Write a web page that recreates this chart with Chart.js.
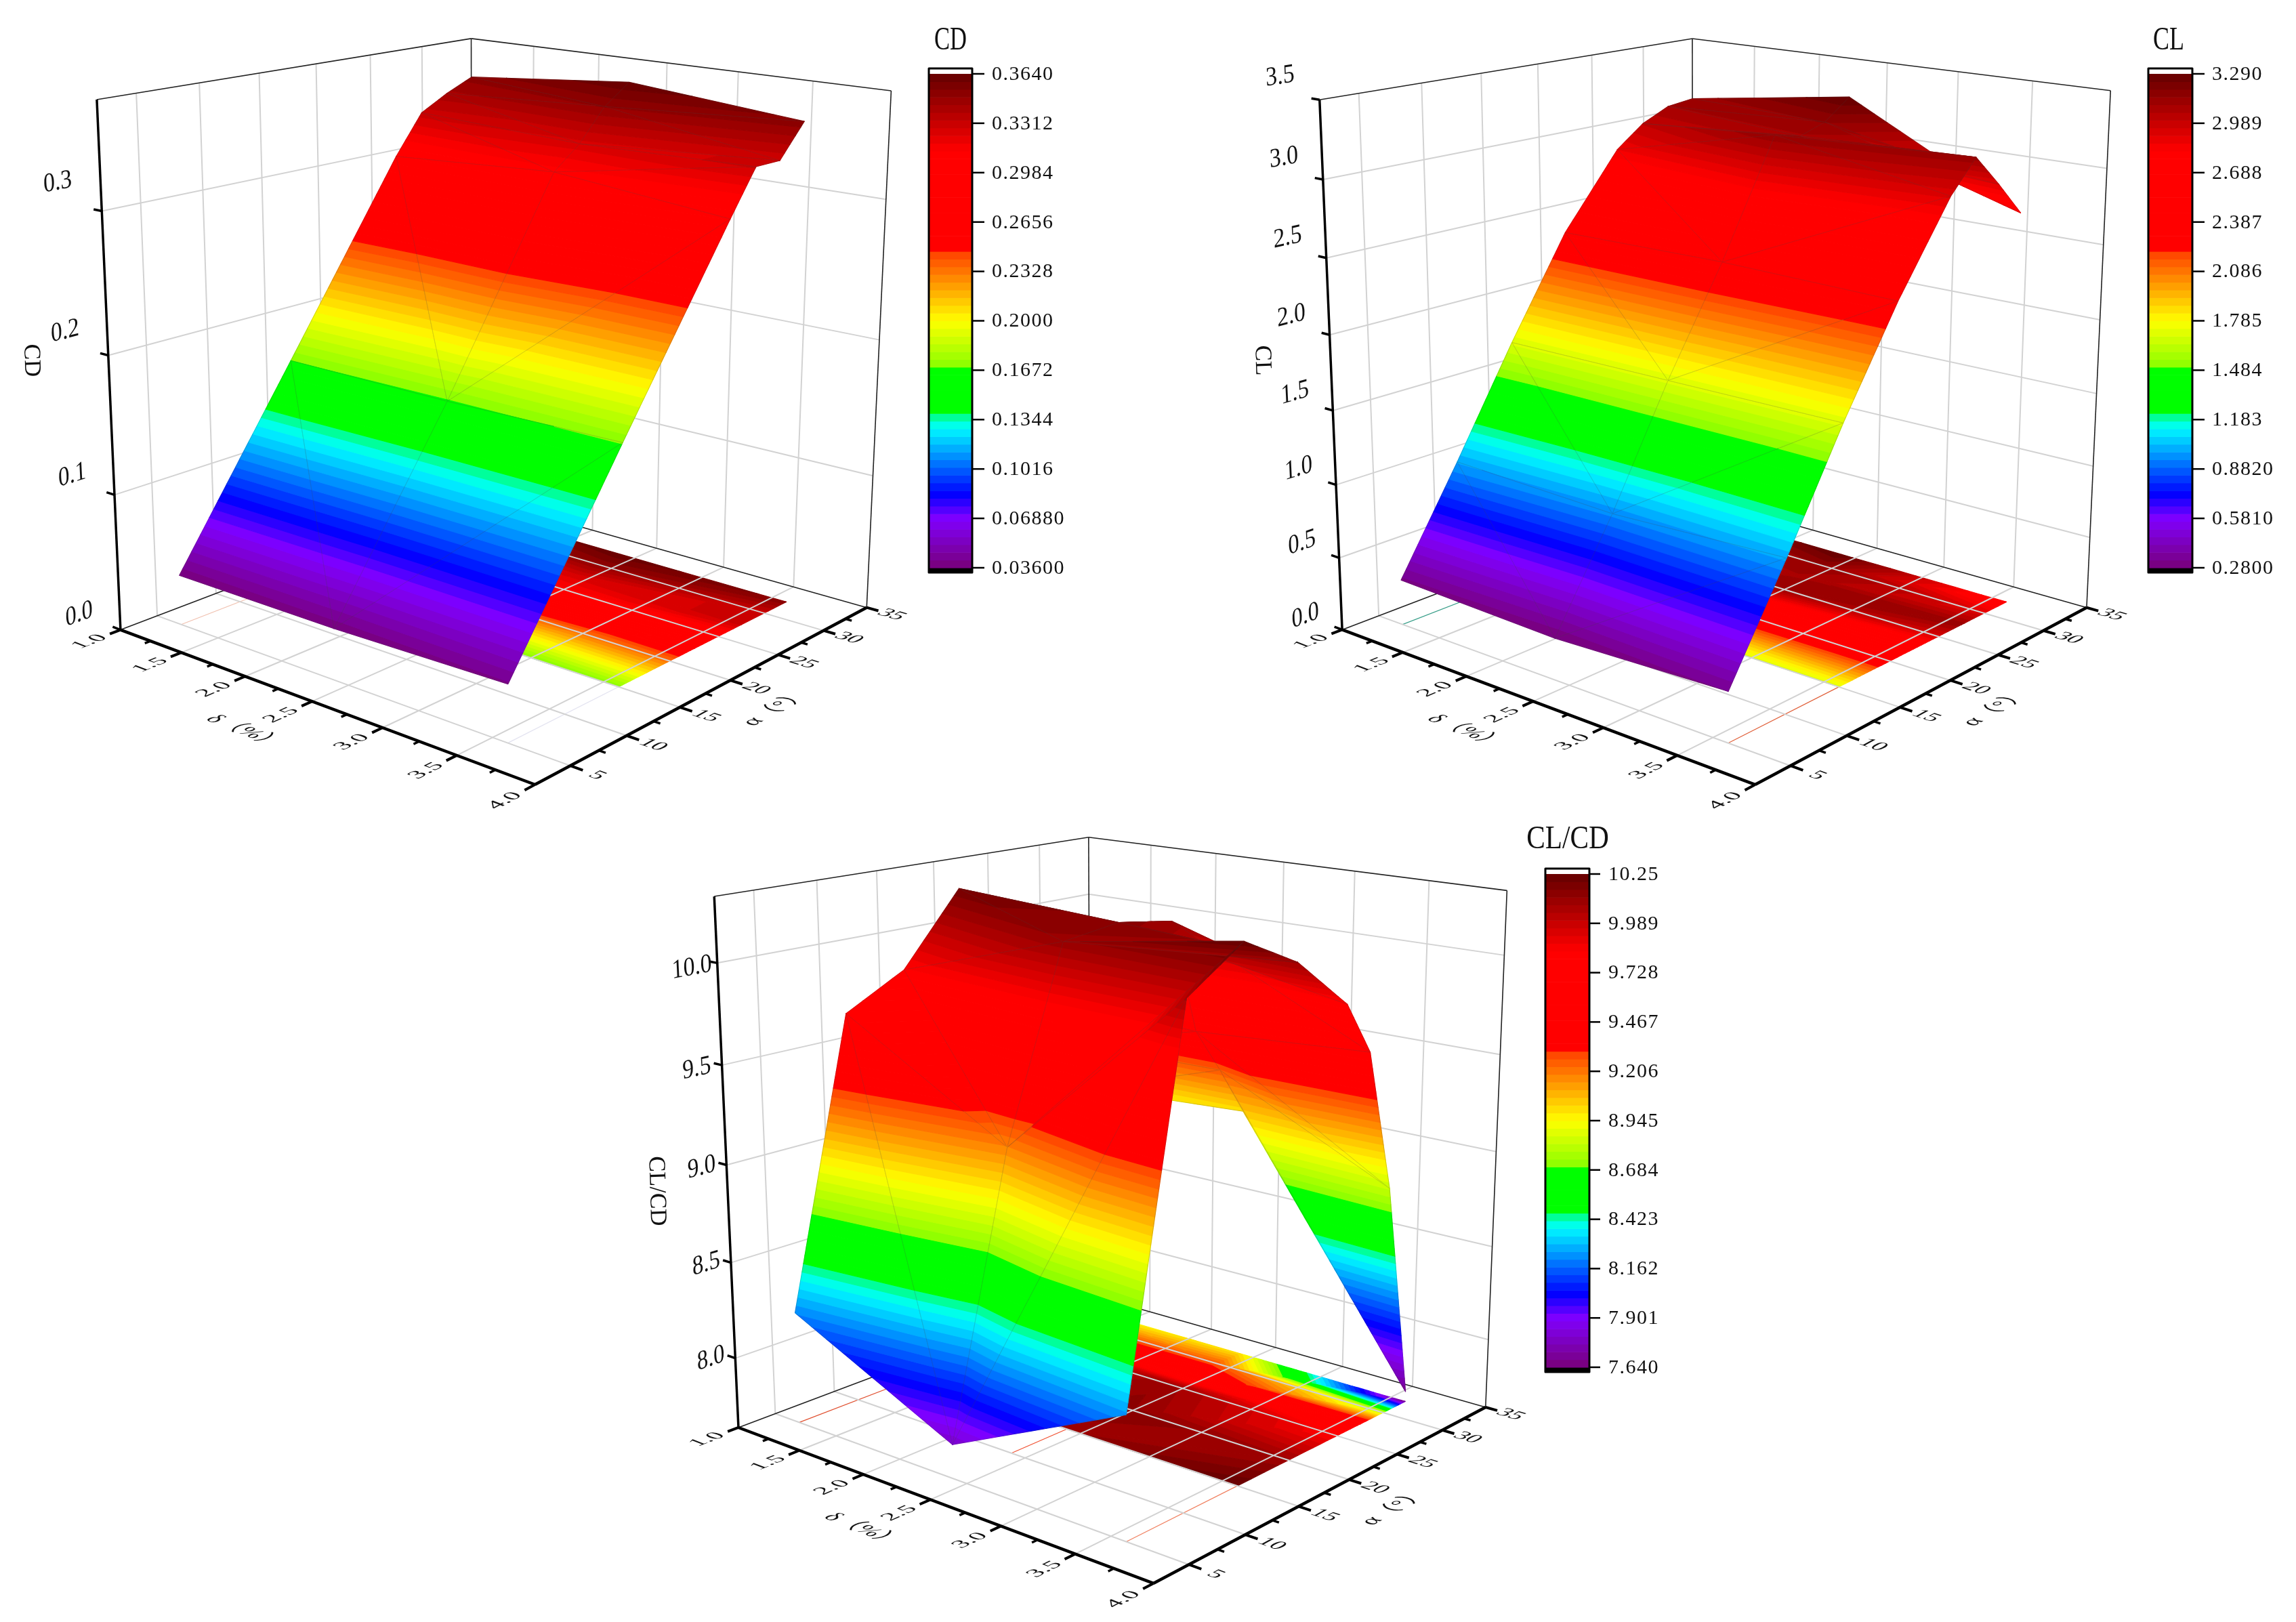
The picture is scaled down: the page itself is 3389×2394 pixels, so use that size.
<!DOCTYPE html>
<html>
<head>
<meta charset="utf-8">
<title>CD CL CL/CD surfaces</title>
<script src="https://cdn.jsdelivr.net/npm/chart.js@4"></script>
<style>
  html, body { margin: 0; padding: 0; background: #fff; }
  canvas { display: block; }
</style>
</head>
<body>
<canvas id="surfaceChart" width="3389" height="2394"></canvas>
<script>
// deflection (%) columns of every surface
const deltaValues = [1.2, 2.4, 3.6];

// CD(alpha, delta)
const cdAlpha = [5, 15, 25, 27.5, 30, 32.5];
const cdLow = [0.037, 0.169, 0.302, 0.331, 0.342, 0.351];
const cdMid = [0.037, 0.168, 0.310, 0.326, 0.349, 0.363];
const cdHigh = [0.040, 0.170, 0.298, 0.329, 0.329, 0.352];

// CL(alpha, delta)
const clAlpha = [5, 10, 15, 20, 25, 27.5, 30, 32.5];
const clLow = [0.311, 0.992, 1.703, 2.369, 2.867, 3.013, 3.099, 3.121];
const clMid = [0.280, 0.952, 1.705, 2.382, 3.138, 3.094, 3.152, 3.287];
const clHigh = [0.327, 1.000, 1.708, 2.358, 2.924, 3.129, 2.916, 2.687];

// CL/CD(alpha, delta)
const ldAlpha = [5, 10, 15, 20, 25, 27.5, 30, 32.5];
const ldLow = [8.215, 9.674, 9.834, 10.20, 9.95, 9.55, 9.25, 8.95];
const ldMid = [7.804, 9.184, 10.114, 10.152, 10.105, 9.504, 9.263, 9.000];
const ldHigh = [8.240, 10.056, 10.250, 10.096, 9.833, 9.563, 8.828, 7.685];

// axis ticks
const deltaTicks = [1.0, 1.5, 2.0, 2.5, 3.0, 3.5, 4.0];
const alphaTicks = [5, 10, 15, 20, 25, 30, 35];
const cdTicks = [0.0, 0.1, 0.2, 0.3];
const clTicks = [0.0, 0.5, 1.0, 1.5, 2.0, 2.5, 3.0, 3.5];
const ldTicks = [8.0, 8.5, 9.0, 9.5, 10.0];

// colour bar labels, top to bottom
const cdBarLabels = ["0.3640", "0.3312", "0.2984", "0.2656", "0.2328", "0.2000", "0.1672", "0.1344", "0.1016", "0.06880", "0.03600"];
const clBarLabels = ["3.290", "2.989", "2.688", "2.387", "2.086", "1.785", "1.484", "1.183", "0.8820", "0.5810", "0.2800"];
const ldBarLabels = ["10.25", "9.989", "9.728", "9.467", "9.206", "8.945", "8.684", "8.423", "8.162", "7.901", "7.640"];

// colour map: position 0..1, rgb. Repeated positions are hard steps, as in the original palette
const colorStops = [
    [0, 120, 0, 120], [0.10, 128, 0, 255], [0.15, 0, 0, 255], [0.285, 0, 255, 255], [0.31, 0, 255, 128],
    [0.31, 0, 255, 0], [0.41, 0, 255, 0], [0.41, 140, 255, 0], [0.50, 255, 255, 0], [0.64, 255, 64, 0],
    [0.64, 255, 0, 0], [0.845, 255, 0, 0], [1, 100, 0, 0]
];
const levelCount = 64;

const deltaMin = 1, deltaMax = 4, alphaMin = 2, alphaMax = 35;

// Box corners on the page, used to fit the perspective camera of each panel
const panels = [
    {
        title: "CD", zTitle: "CD", alphas: cdAlpha, rows: [cdLow, cdMid, cdHigh], zFloor: 0, zTop: 0.375,
        zTicks: cdTicks, zDigits: 1, zLabelX: -0.118, zLabelLift: 0.045, zLabelDrop: 0,
        zTitlePos: [46, 532],
        barLabels: cdBarLabels, valueMin: 0.036, valueMax: 0.364,
        bar: { left: 1371, right: 1435, top: 101, bottom: 845, colorTop: 109, colorBottom: 838, tickEnd: 1453, labelX: 1464, titleX: 1403, titleY: 73, titleScale: 0.72 },
        corners: [[177, 929], [791, 1157], [1279, 896], [698, 732], [144, 146], [1316, 134], [694, 57]],
        calib: [[0.5, 0, 0, 459.6, 1035.5], [1, 18 / 33, 0, 1077, 1005.5], [0, 0, 0.2 / 0.375, 160, 526]],
        slivers: [[0, 5, "rgba(230,150,120,0.6)"], [2, 5, "rgba(200,200,225,0.5)"]]
    },
    {
        title: "CL", zTitle: "CL", alphas: clAlpha, rows: [clLow, clMid, clHigh], zFloor: 0, zTop: 3.5,
        zTicks: clTicks, zDigits: 1, zLabelX: -0.105, zLabelLift: 0.03, zLabelDrop: 0,
        zTitlePos: [1863, 532],
        barLabels: clBarLabels, valueMin: 0.28, valueMax: 3.29,
        bar: { left: 3171, right: 3236, top: 101, bottom: 845, colorTop: 109, colorBottom: 838, tickEnd: 3254, labelX: 3265, titleX: 3201, titleY: 73, titleScale: 0.75 },
        corners: [[1980, 929], [2590, 1157], [3079, 896], [2500, 732], [1949, 146], [3116, 134], [2496, 57]],
        calib: [[0.5, 0, 0, 2262.6, 1035.5], [1, 18 / 33, 0, 2880, 1005.5], [0, 0, 2 / 3.5, 1963, 496]],
        slivers: [[0, 5, "#3a9f8a"], [2, 5, "#e0603a"]]
    },
    {
        title: "CL/CD", zTitle: "CL/CD", alphas: ldAlpha, rows: [ldLow, ldMid, ldHigh], zFloor: 7.63, zTop: 10.32,
        zTicks: ldTicks, zDigits: 1, zLabelX: -0.07, zLabelLift: 0, zLabelDrop: 0.018,
        zTitlePos: [969, 1758],
        barLabels: ldBarLabels, valueMin: 7.64, valueMax: 10.25,
        bar: { left: 2281, right: 2346, top: 1282, bottom: 2025, colorTop: 1290, colorBottom: 2018, tickEnd: 2362, labelX: 2374, titleX: 2314, titleY: 1252, titleScale: 0.86 },
        corners: [[1091, 2108], [1703, 2336], [2191, 2077], [1612, 1911], [1057, 1325], [2226, 1314], [1605, 1236]],
        calib: [[0.5, 0, 0, 1373.6, 2214.5], [1, 18 / 33, 0, 1991, 2184.5], [0, 0, (9 - 7.63) / 2.69, 1068, 1716]],
        slivers: [[0, 5, "#e05030"], [1, 10, "#f05030"], [2, 5, "#f08060"]]
    }
];

const serif = "'Liberation Serif','Noto Sans CJK SC',serif";
const gridColor = "#d2d2d2";

function solveLinear(A, b) {
    const n = b.length;
    for (let i = 0; i < n; i++) {
        let p = i;
        for (let r = i + 1; r < n; r++) if (Math.abs(A[r][i]) > Math.abs(A[p][i])) p = r;
        [A[i], A[p]] = [A[p], A[i]];
        [b[i], b[p]] = [b[p], b[i]];
        for (let r = i + 1; r < n; r++) {
            const f = A[r][i] / A[i][i];
            for (let c = i; c < n; c++) A[r][c] -= f * A[i][c];
            b[r] -= f * b[i];
        }
    }
    const x = new Array(n).fill(0);
    for (let i = n - 1; i >= 0; i--) {
        let s = b[i];
        for (let c = i + 1; c < n; c++) s -= A[i][c] * x[c];
        x[i] = s / A[i][i];
    }
    return x;
}

// Least squares 3x4 camera from box points (X, Y, Z in 0..1)
function fitCamera(points) {
    const A = Array.from({ length: 11 }, () => new Array(11).fill(0));
    const b = new Array(11).fill(0);
    const add = (r, v) => {
        for (let i = 0; i < 11; i++) {
            b[i] += r[i] * v;
            for (let j = 0; j < 11; j++) A[i][j] += r[i] * r[j];
        }
    };
    points.forEach(([X, Y, Z, u, v]) => {
        const U = u / 1000, V = v / 1000;
        add([X, Y, Z, 1, 0, 0, 0, 0, -U * X, -U * Y, -U * Z], U);
        add([0, 0, 0, 0, X, Y, Z, 1, -V * X, -V * Y, -V * Z], V);
    });
    return solveLinear(A, b);
}

const cornerCube = [[0, 0, 0], [1, 0, 0], [1, 1, 0], [0, 1, 0], [0, 0, 1], [1, 1, 1], [0, 1, 1]];
panels.forEach(panel => {
    const pts = panel.corners.map((c, i) => [...cornerCube[i], c[0], c[1]]).concat(panel.calib);
    panel.cam = fitCamera(pts);
});

const normDelta = d => (d - deltaMin) / (deltaMax - deltaMin);
const normAlpha = a => (a - alphaMin) / (alphaMax - alphaMin);

function project(panel, X, Y, Z) {
    const p = panel.cam;
    const w = p[8] * X + p[9] * Y + p[10] * Z + 1;
    return { x: (p[0] * X + p[1] * Y + p[2] * Z + p[3]) / w * 1000, y: (p[4] * X + p[5] * Y + p[6] * Z + p[7]) / w * 1000 };
}
const depthOf = (panel, v) => panel.cam[8] * v.X + panel.cam[9] * v.Y + panel.cam[10] * v.Z;

function colorAt(t) {
    for (let i = 0; i < colorStops.length - 1; i++) {
        const a = colorStops[i], b = colorStops[i + 1];
        if (t <= b[0] && b[0] > a[0]) {
            const f = (t - a[0]) / (b[0] - a[0]);
            return `rgb(${Math.round(a[1] + (b[1] - a[1]) * f)},${Math.round(a[2] + (b[2] - a[2]) * f)},${Math.round(a[3] + (b[3] - a[3]) * f)})`;
        }
    }
    return "rgb(100,0,0)";
}
const levelColors = [];
for (let i = 0; i < levelCount; i++) levelColors.push(colorAt((i + 0.5) / levelCount));

function vertex(panel, c, a, onFloor) {
    const val = panel.rows[c][a];
    return {
        X: normDelta(deltaValues[c]), Y: normAlpha(panel.alphas[a]),
        Z: onFloor ? 0 : (val - panel.zFloor) / (panel.zTop - panel.zFloor),
        t: (val - panel.valueMin) / (panel.valueMax - panel.valueMin)
    };
}

function triangles(panel, onFloor, firstRow) {
    const out = [];
    const V = (c, a) => vertex(panel, c, a, onFloor);
    for (let a = firstRow; a < panel.alphas.length - 1; a++) {
        out.push([V(0, a), V(1, a), V(0, a + 1)]);
        out.push([V(1, a), V(1, a + 1), V(0, a + 1)]);
        out.push([V(1, a), V(2, a), V(2, a + 1)]);
        out.push([V(1, a), V(2, a + 1), V(1, a + 1)]);
    }
    return out;
}

function clipPoly(poly, limit, keepAbove) {
    const out = [];
    for (let i = 0; i < poly.length; i++) {
        const a = poly[i], b = poly[(i + 1) % poly.length];
        const ina = keepAbove ? a.t >= limit : a.t <= limit;
        const inb = keepAbove ? b.t >= limit : b.t <= limit;
        if (ina) out.push(a);
        if (ina !== inb) {
            const f = (limit - a.t) / (b.t - a.t);
            out.push({ X: a.X + (b.X - a.X) * f, Y: a.Y + (b.Y - a.Y) * f, Z: a.Z + (b.Z - a.Z) * f, t: limit });
        }
    }
    return out;
}

const surfacePlugin = {
    id: "surfacePlugin",
    beforeDatasetsDraw(chart) {
        const ctx = chart.ctx;
        const xs = chart.scales.x, ys = chart.scales.y;
        const toCanvas = pt => ({ x: xs.getPixelForValue(pt.x), y: ys.getPixelForValue(pt.y) });

        const line = (panel, a, b, color, width) => {
            const p = toCanvas(project(panel, a[0], a[1], a[2]));
            const q = toCanvas(project(panel, b[0], b[1], b[2]));
            ctx.strokeStyle = color;
            ctx.lineWidth = width;
            ctx.beginPath();
            ctx.moveTo(p.x, p.y);
            ctx.lineTo(q.x, q.y);
            ctx.stroke();
        };

        const drawTriangle = (panel, tri) => {
            let lo = Math.min(tri[0].t, tri[1].t, tri[2].t), hi = Math.max(tri[0].t, tri[1].t, tri[2].t);
            const first = Math.max(0, Math.floor(lo * levelCount));
            const last = Math.min(levelCount - 1, Math.floor(hi * levelCount));
            for (let k = first; k <= last; k++) {
                let poly = tri;
                if (k > 0) poly = clipPoly(poly, k / levelCount, true);
                if (k < levelCount - 1 && poly.length) poly = clipPoly(poly, (k + 1) / levelCount, false);
                if (poly.length < 3) continue;
                ctx.fillStyle = ctx.strokeStyle = levelColors[k];
                ctx.lineWidth = 1.2;
                ctx.lineJoin = "round";
                ctx.beginPath();
                poly.forEach((v, i) => {
                    const pt = toCanvas(project(panel, v.X, v.Y, v.Z));
                    if (i === 0) ctx.moveTo(pt.x, pt.y); else ctx.lineTo(pt.x, pt.y);
                });
                ctx.closePath();
                ctx.fill();
                ctx.stroke();
            }
        };

        // text lying in a plane of the box: u is the baseline direction, d points from glyph top to bottom
        const planeText = (panel, text, pos, uDir, dDir, font, su, sd) => {
            const c = toCanvas(project(panel, pos[0], pos[1], pos[2]));
            const step = (dir) => {
                const e = 0.01;
                const q = toCanvas(project(panel, pos[0] + dir[0] * e, pos[1] + dir[1] * e, pos[2] + dir[2] * e));
                const len = Math.hypot(q.x - c.x, q.y - c.y);
                return [(q.x - c.x) / len, (q.y - c.y) / len];
            };
            const u = step(uDir), d = step(dDir);
            ctx.save();
            ctx.transform(u[0] * su, u[1] * su, d[0] * sd, d[1] * sd, c.x, c.y);
            ctx.font = font;
            ctx.fillStyle = "#111";
            ctx.textAlign = "center";
            ctx.textBaseline = "middle";
            ctx.fillText(text, 0, 0);
            ctx.restore();
        };

        panels.forEach(panel => {
            const zNorm = z => (z - panel.zFloor) / (panel.zTop - panel.zFloor);
            ctx.lineCap = "butt";

            // wall grids
            alphaTicks.slice(0, -1).forEach(a => line(panel, [0, normAlpha(a), 0], [0, normAlpha(a), 1], gridColor, 2));
            deltaTicks.slice(1, -1).forEach(d => line(panel, [normDelta(d), 1, 0], [normDelta(d), 1, 1], gridColor, 2));
            panel.zTicks.filter(z => z > panel.zFloor && z < panel.zTop * 0.999).forEach(z => {
                line(panel, [0, 0, zNorm(z)], [0, 1, zNorm(z)], gridColor, 2);
                line(panel, [0, 1, zNorm(z)], [1, 1, zNorm(z)], gridColor, 2);
            });

            // contour map on the floor, it only starts at the alpha = 15 row of the sweep
            const floorStart = panel.alphas.indexOf(15);
            triangles(panel, true, floorStart).forEach(tri => drawTriangle(panel, tri));
            panel.slivers.forEach(([c, from, color]) => {
                const X = normDelta(deltaValues[c]);
                line(panel, [X, normAlpha(from), 0], [X, normAlpha(15), 0], color, 1.2);
            });

            // floor grid sits over the map
            alphaTicks.slice(0, -1).forEach(a => line(panel, [0, normAlpha(a), 0], [1, normAlpha(a), 0], gridColor, 2));
            deltaTicks.slice(1, -1).forEach(d => line(panel, [normDelta(d), 0, 0], [normDelta(d), 1, 0], gridColor, 2));

            // thin box edges
            [[[0, 0, 1], [0, 1, 1]], [[0, 1, 1], [1, 1, 1]], [[1, 1, 1], [1, 1, 0]], [[0, 1, 1], [0, 1, 0]], [[0, 0, 0], [0, 1, 0]], [[0, 1, 0], [1, 1, 0]]]
                .forEach(([a, b]) => line(panel, a, b, "#222", 1.6));

            // surface, far triangles first
            const tris = triangles(panel, false, 0);
            tris.sort((p, q) => {
                const dp = depthOf(panel, p[0]) + depthOf(panel, p[1]) + depthOf(panel, p[2]);
                const dq = depthOf(panel, q[0]) + depthOf(panel, q[1]) + depthOf(panel, q[2]);
                return dq - dp;
            });
            tris.forEach(tri => {
                drawTriangle(panel, tri);
                ctx.strokeStyle = "rgba(70,70,70,0.22)";
                ctx.lineWidth = 1;
                ctx.beginPath();
                tri.forEach((v, i) => {
                    const pt = toCanvas(project(panel, v.X, v.Y, v.Z));
                    if (i === 0) ctx.moveTo(pt.x, pt.y); else ctx.lineTo(pt.x, pt.y);
                });
                ctx.closePath();
                ctx.stroke();
            });

            // heavy axes
            line(panel, [0, 0, 0], [0, 0, 1], "#000", 3.5);
            line(panel, [0, 0, 0], [1, 0, 0], "#000", 4.5);
            line(panel, [1, 0, 0], [1, 1, 0], "#000", 4.5);

            // ticks and labels
            deltaTicks.forEach((d, i) => {
                const X = normDelta(d);
                line(panel, [X, 0, 0], [X, -0.026, 0], "#000", 4);
                if (i < deltaTicks.length - 1) {
                    const Xm = normDelta(d + 0.25);
                    line(panel, [Xm, 0, 0], [Xm, -0.014, 0], "#000", 3.5);
                }
                planeText(panel, d.toFixed(1), [X, -0.075, 0], [0, 1, 0], [1, 0, 0], "30px " + serif, 1.2, 0.95);
            });
            alphaTicks.forEach((a, i) => {
                const Y = normAlpha(a);
                line(panel, [1, Y, 0], [1.026, Y, 0], "#000", 4);
                if (i < alphaTicks.length - 1) {
                    const Ym = normAlpha(a + 2.5);
                    line(panel, [1, Ym, 0], [1.014, Ym, 0], "#000", 3.5);
                }
                planeText(panel, String(a), [1.055, Y, 0], [1, 0, 0], [0, -1, 0], "30px " + serif, 1.15, 0.95);
            });
            panel.zTicks.forEach(z => {
                const Z = zNorm(z);
                line(panel, [0, 0, Z], [-0.022, 0, Z], "#000", 3.5);
                planeText(panel, z.toFixed(panel.zDigits), [panel.zLabelX, 0, Z * (1 + panel.zLabelLift) - panel.zLabelDrop], [0, 1, 0], [0, 0, -1], "36px " + serif, 0.95, 1.1);
            });

            planeText(panel, "δ（%）", [0.5, -0.16, 0], [1, 0, 0], [0, -1, 0], "34px " + serif, 1, 0.95);
            planeText(panel, "α（°）", [1.13, 0.5, 0], [0, 1, 0], [1, 0, 0], "34px " + serif, 1, 0.95);

            // rotated z axis title
            ctx.save();
            ctx.translate(xs.getPixelForValue(panel.zTitlePos[0]), ys.getPixelForValue(panel.zTitlePos[1]));
            ctx.rotate(Math.PI / 2 - 0.03);
            ctx.font = "35px " + serif;
            ctx.fillStyle = "#111";
            ctx.textAlign = "center";
            ctx.textBaseline = "middle";
            ctx.fillText(panel.zTitle, 0, 0);
            ctx.restore();

            // colour bar
            const bar = panel.bar;
            const bx0 = xs.getPixelForValue(bar.left), bx1 = xs.getPixelForValue(bar.right);
            const by0 = ys.getPixelForValue(bar.top), by1 = ys.getPixelForValue(bar.bottom);
            const cy0 = ys.getPixelForValue(bar.colorTop), cy1 = ys.getPixelForValue(bar.colorBottom);
            ctx.fillStyle = "#fff";
            ctx.fillRect(bx0, by0, bx1 - bx0, cy0 - by0);
            ctx.fillStyle = "#000";
            ctx.fillRect(bx0, cy1, bx1 - bx0, by1 - cy1);
            for (let k = 0; k < levelCount; k++) {
                const top = cy1 + (cy0 - cy1) * (k + 1) / levelCount;
                const bottom = cy1 + (cy0 - cy1) * k / levelCount;
                ctx.fillStyle = levelColors[k];
                ctx.fillRect(bx0, top, bx1 - bx0, bottom - top + 0.6);
            }
            ctx.strokeStyle = "#000";
            ctx.lineWidth = 3;
            ctx.strokeRect(bx0, by0, bx1 - bx0, by1 - by0);

            panel.barLabels.forEach((label, i) => {
                const y = cy0 + (cy1 - cy0) * i / (panel.barLabels.length - 1);
                ctx.strokeStyle = "#000";
                ctx.lineWidth = 2.5;
                ctx.beginPath();
                ctx.moveTo(bx1, y);
                ctx.lineTo(xs.getPixelForValue(bar.tickEnd), y);
                ctx.stroke();
                ctx.font = "30px " + serif;
                ctx.letterSpacing = "1.5px";
                ctx.fillStyle = "#111";
                ctx.textAlign = "left";
                ctx.textBaseline = "middle";
                ctx.fillText(label, xs.getPixelForValue(bar.labelX), y + 1);
                ctx.letterSpacing = "0px";
            });

            ctx.save();
            ctx.translate(xs.getPixelForValue(bar.titleX), ys.getPixelForValue(bar.titleY));
            ctx.scale(bar.titleScale, 1);
            ctx.font = "48px " + serif;
            ctx.fillStyle = "#111";
            ctx.textAlign = "center";
            ctx.textBaseline = "alphabetic";
            ctx.fillText(panel.title, 0, 0);
            ctx.restore();
        });
    }
};

new Chart(document.getElementById("surfaceChart"), {
    type: "scatter",
    data: {
        datasets: panels.map(panel => ({
            label: panel.title,
            pointRadius: 0,
            data: panel.alphas.flatMap((a, i) => deltaValues.map((d, c) => {
                const v = vertex(panel, c, i, false);
                return project(panel, v.X, v.Y, v.Z);
            }))
        }))
    },
    options: {
        responsive: false,
        animation: false,
        layout: { padding: 0 },
        plugins: { legend: { display: false }, tooltip: { enabled: false } },
        scales: {
            x: { type: "linear", min: 0, max: 3389, display: false },
            y: { type: "linear", min: 0, max: 2394, reverse: true, display: false }
        }
    },
    plugins: [surfacePlugin]
});
</script>
</body>
</html>
